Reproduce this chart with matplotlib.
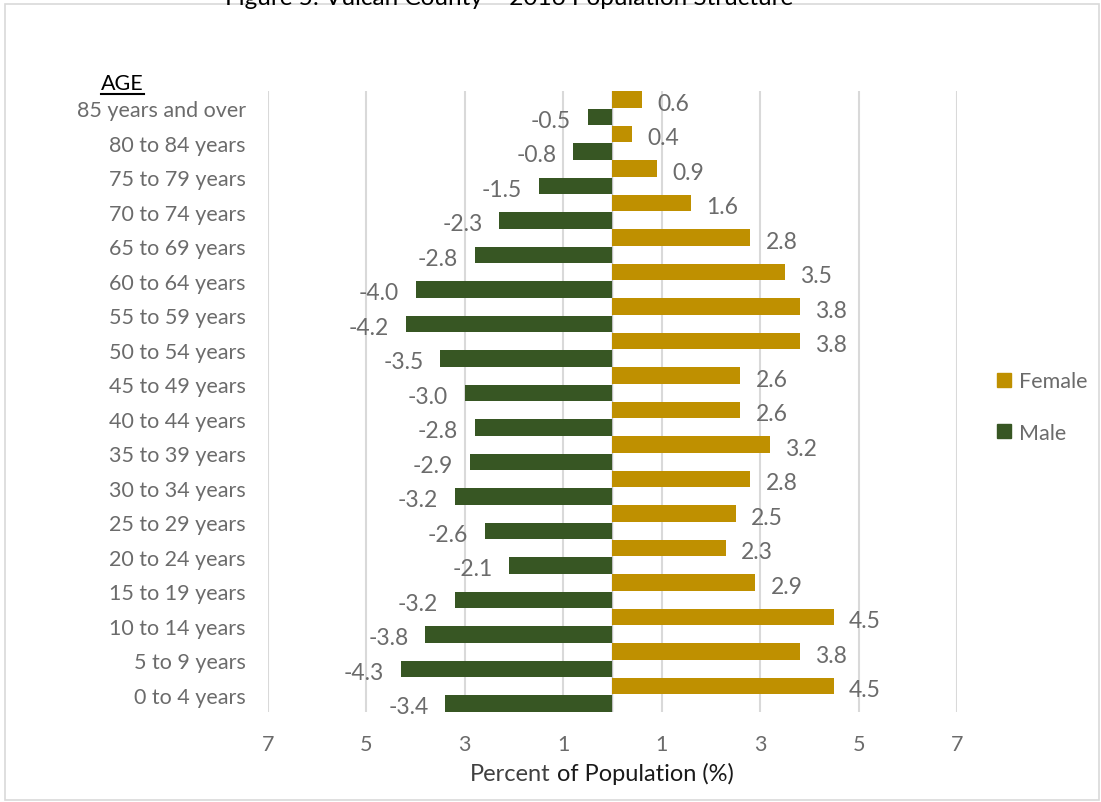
import numpy as np
import matplotlib.pyplot as plt
from matplotlib.lines import Line2D
from matplotlib.patches import Rectangle

plt.rcParams['font.family'] = ['Lato', 'DejaVu Sans']

age_groups = ['0 to 4 years', '5 to 9 years', '10 to 14 years', '15 to 19 years',
              '20 to 24 years', '25 to 29 years', '30 to 34 years', '35 to 39 years',
              '40 to 44 years', '45 to 49 years', '50 to 54 years', '55 to 59 years',
              '60 to 64 years', '65 to 69 years', '70 to 74 years', '75 to 79 years',
              '80 to 84 years', '85 years and over']
female = [4.5, 3.8, 4.5, 2.9, 2.3, 2.5, 2.8, 3.2, 2.6, 2.6,
          3.8, 3.8, 3.5, 2.8, 1.6, 0.9, 0.4, 0.6]
male = [-3.4, -4.3, -3.8, -3.2, -2.1, -2.6, -3.2, -2.9, -2.8, -3.0,
        -3.5, -4.2, -4.0, -2.8, -2.3, -1.5, -0.8, -0.5]
xticks = [-7, -5, -3, -1, 1, 3, 5, 7]

FEMALE_C = '#BF9000'
MALE_C = '#375623'
GRAY = '#6b6b6b'
FS = 15.5

fig = plt.figure(figsize=(11.01, 8.03), dpi=100)
ax = fig.add_axes([0.2434, 0.1121, 0.6258, 0.7733])

y = np.arange(len(age_groups))
h = 0.48
ax.barh(y + 0.25, female, height=h, color=FEMALE_C, zorder=3, label='Female')
ax.barh(y - 0.25, male, height=h, color=MALE_C, zorder=3, label='Male')
ax.axvline(0, color='#bfbfbf', linewidth=1, zorder=2)

for yi, v in zip(y, female):
    ax.annotate('%.1f' % v, (v, yi + 0.25), xytext=(11, -2.5), textcoords='offset points',
                ha='left', va='center', color=GRAY, fontsize=16.5)
for yi, v in zip(y, male):
    ax.annotate('%.1f' % v, (v, yi - 0.25), xytext=(-12, -2.5), textcoords='offset points',
                ha='right', va='center', color=GRAY, fontsize=16.5)

ax.set_xlim(-7, 7)
ax.set_ylim(-0.5, 17.5)
ax.set_xticks(xticks)
ax.set_xticklabels([str(abs(t)) for t in xticks], color=GRAY, fontsize=FS)
ax.set_yticks(y)
ax.set_yticklabels(age_groups, color=GRAY, fontsize=FS)
ax.tick_params(length=0, axis='x', pad=16)
ax.tick_params(length=0, axis='y', pad=16)
ax.grid(axis='x', color='#d9d9d9', linewidth=1.5, zorder=0)
for s in ax.spines.values():
    s.set_visible(False)

# x axis title in two shades, centred as one string
xl1 = fig.text(0, 0.027, 'Percent', color='#404040', fontsize=17, ha='left', va='baseline')
xl2 = fig.text(0, 0.027, ' of Population (%)', color='#1a1a1a', fontsize=17, ha='left', va='baseline')

age_t = fig.text(0.111, 0.8885, 'AGE', color='black', fontsize=FS, ha='center', va='baseline')

leg = fig.legend(handles=[Rectangle((0, 0), 1, 1, color=FEMALE_C), Rectangle((0, 0), 1, 1, color=MALE_C)],
                 labels=['Female', 'Male'], loc='center left', bbox_to_anchor=(0.888, 0.492),
                 frameon=False, fontsize=FS, handlelength=0.65, handleheight=0.65,
                 handletextpad=0.35, labelspacing=1.45)
for t in leg.get_texts():
    t.set_color(GRAY)

fig.text(0.4625, 1 - 5 / 803, 'Figure 5: Vulcan County \u2013 2016 Population Structure',
         color='black', fontsize=17.5, ha='center', va='baseline')

fig.patches.append(Rectangle((5 / 1101, 2 / 803), 1 - 7 / 1101, 1 - 7 / 803, transform=fig.transFigure,
                             fill=False, edgecolor='#d9d9d9', linewidth=1.2))

fig.canvas.draw()
inv = fig.transFigure.inverted()
w1 = xl1.get_window_extent().transformed(inv).width
w2 = xl2.get_window_extent().transformed(inv).width
x0 = 602 / 1101 - (w1 + w2) / 2
xl1.set_x(x0)
xl2.set_x(x0 + w1)
bb = age_t.get_window_extent().transformed(inv)
fig.lines.append(Line2D([bb.x0, bb.x1], [bb.y0 - 0.0015, bb.y0 - 0.0015], transform=fig.transFigure,
                        color='black', linewidth=1.5))

fig.savefig('out.png', dpi=100)
